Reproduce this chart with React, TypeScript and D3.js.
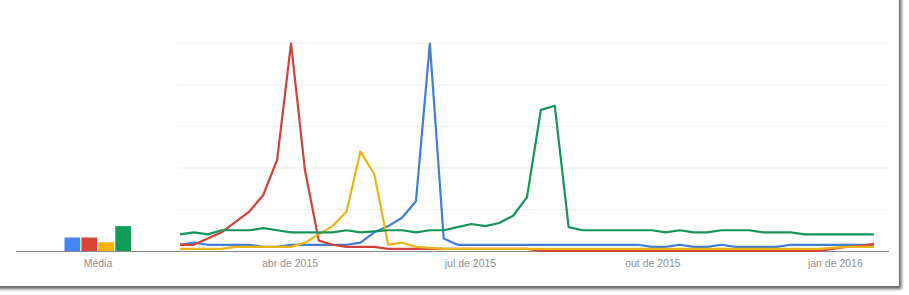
import React from "react";
import * as d3 from "d3";

const seriesNames = ["blue", "red", "yellow", "green"];
const seriesColors = ["#4285f4", "#db4437", "#f4b400", "#0f9d58"];
const lineColors = ["#3f7fd8", "#d0423a", "#eab514", "#17945a"];

const firstWeek = "2015-02-04T12:00:00";

const blueValues = [3, 4, 3, 3, 3, 3, 2, 2, 3, 3, 3, 3, 3, 4, 9, 12, 16, 24, 100, 6, 3, 3, 3, 3, 3, 3, 3, 3, 3, 3, 3, 3, 3, 3, 2, 2, 3, 2, 2, 3, 2, 2, 2, 2, 3, 3, 3, 3, 3, 3, 3];
const redValues = [3, 3, 6, 9, 14, 19, 27, 44, 100, 39, 5, 3, 2, 2, 2, 1, 1, 1, 1, 1, 1, 1, 1, 1, 1, 1, 0, 0, 0, 0, 0, 0, 0, 0, 0, 0, 0, 0, 0, 0, 0, 0, 0, 0, 0, 0, 0, 1, 2, 2.5, 3.5];
const yellowValues = [1, 1, 1, 1, 2, 2, 2, 2, 2, 4, 8, 12, 19, 48, 37, 3, 4, 2, 1.5, 1, 1, 1, 1, 1, 1, 1, 1, 1, 1, 1, 1, 1, 1, 1, 1, 1, 1, 1, 1, 1, 1, 1, 1, 1, 1, 1, 1, 1.5, 2, 2, 2];
const greenValues = [8, 9, 8, 10, 10, 10, 11, 10, 9, 9, 9, 9, 10, 9, 9.5, 10, 10, 9, 10, 10, 11.5, 13, 12, 13.5, 17, 26, 68, 70, 11.5, 10, 10, 10, 10, 10, 10, 9, 10, 9, 9, 10, 10, 10, 9, 9, 9, 8, 8, 8, 8, 8, 8];

const averages = [6.5, 6.5, 4.2, 12];
const averageLabel = "Média";

const tickDates = ["2015-04-01", "2015-07-01", "2015-10-01", "2016-01-01"];
const tickLabels = ["abr de 2015", "jul de 2015", "out de 2015", "jan de 2016"];
const gridValues = [20, 40, 60, 80, 100];

const W = 909;
const H = 295;

export default function App() {
  const start = new Date(firstWeek);
  const allSeries = [blueValues, redValues, yellowValues, greenValues];
  const dates = blueValues.map((_, i) => d3.timeDay.offset(start, 7 * i));

  const x = d3.scaleTime().domain([dates[0], dates[dates.length - 1]]).range([180, 874]);
  const y = d3.scaleLinear().domain([0, 100]).range([251, 43.5]);

  const line = d3
    .line<number>()
    .x((_, i) => x(dates[i]))
    .y((v) => y(v))
    .curve(d3.curveLinear);

  const band = d3.scaleBand().domain(seriesNames).range([64.5, 131]).paddingInner(0.07);

  const font = "'Liberation Sans', Arial, sans-serif";

  return (
    <div style={{ position: "fixed", left: 0, top: 0, width: W, height: H, background: "#fff" }}>
      <svg width={W} height={H} style={{ display: "block" }}>
        <defs>
          <filter id="shadow" x="-5%" y="-5%" width="110%" height="115%">
            <feDropShadow dx="2.5" dy="3" stdDeviation="1.7" floodColor="#000" floodOpacity="0.6" />
          </filter>
        </defs>
        <rect x={0} y={0} width={W} height={H} fill="#fff" />
        <rect x={-10} y={-10} width={909} height={296} fill="#fff" filter="url(#shadow)" />
        {gridValues.map((g) => (
          <line key={g} x1={177} x2={888} y1={y(g)} y2={y(g)} stroke="#efefef" strokeWidth={1} />
        ))}
        <line x1={16} x2={889} y1={y(0) + 0.5} y2={y(0) + 0.5} stroke="#8a8a8a" strokeWidth={1} />
        {averages.map((v, i) => (
          <rect
            key={seriesNames[i]}
            x={band(seriesNames[i])}
            width={band.bandwidth()}
            y={y(v)}
            height={y(0) - y(v)}
            fill={seriesColors[i]}
          />
        ))}
        <text x={98} y={267} textAnchor="middle" fontFamily={font} fontSize={10.5} fill="#8f8f8f">
          {averageLabel}
        </text>
        {allSeries.map((vals, i) => (
          <path
            key={seriesNames[i]}
            d={line(vals) || ""}
            fill="none"
            stroke={lineColors[i]}
            strokeWidth={2.2}
            strokeLinejoin="round"
          />
        ))}
        {tickDates.map((t, i) => (
          <text
            key={t}
            x={x(new Date(t + "T00:00:00"))}
            y={267}
            textAnchor="middle"
            fontFamily={font}
            fontSize={10.5}
            fill="#8f8f8f"
          >
            {tickLabels[i]}
          </text>
        ))}
      </svg>
    </div>
  );
}
